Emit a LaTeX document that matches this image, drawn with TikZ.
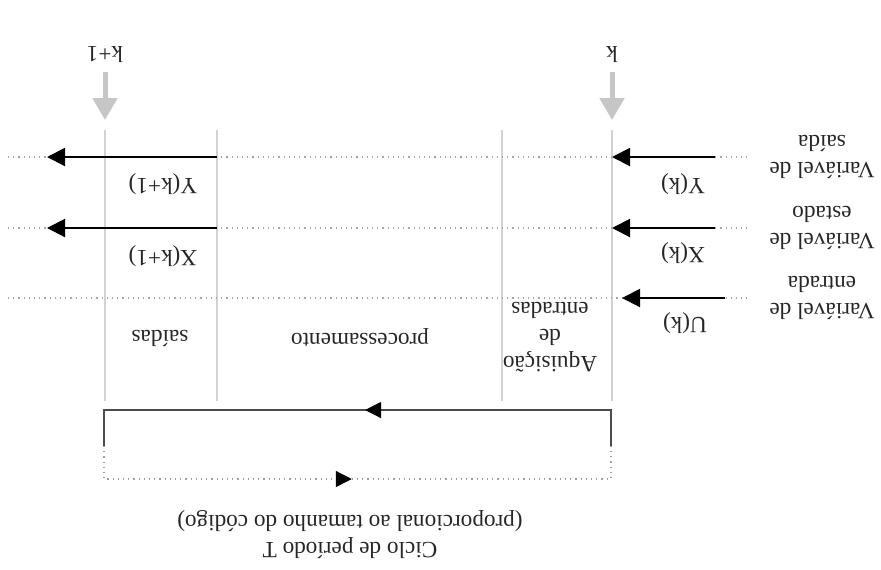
\documentclass[tikz,border=0pt]{standalone}
\usepackage{fontspec}
\setmainfont{Liberation Serif}
\usetikzlibrary{arrows.meta,decorations.markings}

\tikzset{
    lbl/.style={rotate=180, font=\fontsize{11.6}{13.5}\selectfont, text=black!85,
        align=center, inner sep=0pt},
    phase/.style={draw=gray!35, line width=1pt},
    level/.style={draw=gray!70, dotted, line width=0.6pt},
    sig/.style={draw=black, line width=1pt, -{Triangle[width=9pt,length=9pt]}},
    tick/.style={draw=gray!45, line width=2.5pt, -{Triangle[width=12pt,length=11pt]}},
    loopline/.style={draw=black!70, line width=0.6pt, postaction={decorate}},
    loopmark/.style={decoration={markings,
        mark=at position #1 with {\arrow[black]{Triangle[width=8pt,length=8pt]}}}}
}

\begin{document}
\begin{tikzpicture}[x=0.5pt, y=-0.5pt]
    \useasboundingbox (0,0) rectangle (881,569);

    % instants k, k+1 and the phase borders
    \foreach \name/\x in {k1/105, sai/217, aq/502, k0/612} {
        \coordinate (\name-top) at (\x,130);
        \coordinate (\name-bot) at (\x,401);
        \draw[phase] (\name-top) -- (\name-bot);
    }

    % signal levels
    \foreach \name/\y in {Y/157, X/228, U/298} {
        \coordinate (\name-l) at (8,\y);
        \coordinate (\name-r) at (747,\y);
        \draw[level] (\name-l) -- (\name-r);
    }

    \node[lbl] (k)     at (612,55) {k};
    \node[lbl] (knext) at (105,55) {k+1};
    \draw[tick] ([yshift=-8.5pt]k.center) -- ([yshift=5pt]k0-top);
    \draw[tick] ([yshift=-8.5pt]knext.center) -- ([yshift=5pt]k1-top);

    % inputs read at k
    \coordinate (Y-in) at (715,157);
    \coordinate (X-in) at (715,228);
    \coordinate (U-in) at (725,298);
    \draw[sig] (Y-in) -- (k0-top |- Y-r);
    \draw[sig] (X-in) -- (k0-top |- X-r);
    \draw[sig] (U-in) -- ([xshift=5pt]k0-top |- U-r);

    % outputs written at k+1
    \coordinate (Y-out) at (47,157);
    \coordinate (X-out) at (47,228);
    \draw[sig] (sai-top |- Y-r) -- (Y-out);
    \draw[sig] (sai-top |- X-r) -- (X-out);

    \node[lbl] (Yk)  at (683,184) {Y(k)};
    \node[lbl] (Xk)  at (683,253) {X(k)};
    \node[lbl] (Uk)  at (685,323) {U(k)};
    \node[lbl] (Yk1) at (163,184) {Y(k+1)};
    \node[lbl] (Xk1) at (163,256) {X(k+1)};

    \node[lbl] (vY) at (822,157) {Variável de\\saída};
    \node[lbl] (vX) at (822,228) {Variável de\\estado};
    \node[lbl] (vU) at (822,298) {Variável de\\entrada};

    \node[lbl] (fsai)  at (160,338) {saídas};
    \node[lbl] (fproc) at (360,338) {processamento};
    \node[lbl] (faq)   at (550,337) {Aquisição\\de\\entradas};

    % scan cycle
    \coordinate (cyc-r) at (611,446);
    \coordinate (cyc-l) at (104,446);
    \draw[loopline, loopmark=0.487] (cyc-r) -- ++(0,-36) -| (cyc-l);
    \draw[loopline, draw=gray!75, loopmark=0.49, dotted] (cyc-l) -- ++(0,33) -| (cyc-r);

    \node[lbl] (cyc) at (350,535) {Ciclo de período T\\(proporcional ao tamanho do código)};
\end{tikzpicture}
\end{document}
